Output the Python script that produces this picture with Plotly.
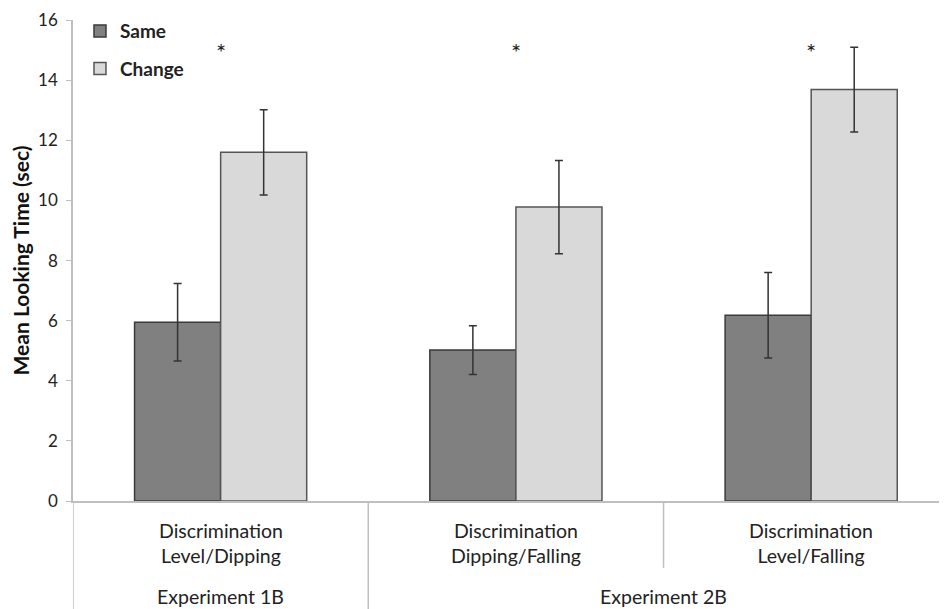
import plotly.graph_objects as go

categories = ["Discrimination<br>Level/Dipping", "Discrimination<br>Dipping/Falling", "Discrimination<br>Level/Falling"]
experiments = ["Experiment 1B", "Experiment 2B"]
same_vals = [5.95, 5.02, 6.18]
same_err = [1.29, 0.81, 1.42]
change_vals = [11.6, 9.78, 13.69]
change_err = [1.42, 1.55, 1.41]
y_ticks = [0, 2, 4, 6, 8, 10, 12, 14, 16]
star_y = 14.95

xpos = list(range(len(categories)))
font = "Lato, 'Open Sans', sans-serif"

fig = go.Figure()
fig.add_trace(go.Bar(
    x=xpos, y=same_vals, name="<b>Same</b>", legendgroup="a",
    marker=dict(color="#808080", line=dict(color="#3a3a3a", width=1.5)),
    error_y=dict(type="data", array=same_err, color="#333333", thickness=1.5, width=4),
))
fig.add_trace(go.Bar(
    x=xpos, y=change_vals, name="<b>Change</b>", legendgroup="b",
    marker=dict(color="#d9d9d9", line=dict(color="#555555", width=1.5)),
    error_y=dict(type="data", array=change_err, color="#333333", thickness=1.5, width=4),
))

annotations = []
for i, c in enumerate(categories):
    annotations.append(dict(x=i, y=star_y, xref="x", yref="y", text="*", showarrow=False,
                            font=dict(size=24, color="#222222", family=font)))
    annotations.append(dict(x=i, y=-0.088, xref="x", yref="paper", text=c, showarrow=False,
                            yanchor="middle", font=dict(size=19.5, color="#222222", family=font)))
annotations.append(dict(x=0, y=-0.199, xref="x", yref="paper", text=experiments[0], showarrow=False,
                        yanchor="middle", font=dict(size=19.5, color="#222222", family=font)))
annotations.append(dict(x=1.5, y=-0.199, xref="x", yref="paper", text=experiments[1], showarrow=False,
                        yanchor="middle", font=dict(size=19.5, color="#222222", family=font)))

line_c = "#bfbfbf"
shapes = [
    dict(type="line", xref="x", yref="paper", x0=-0.5, x1=-0.5, y0=0, y1=-0.232, line=dict(color=line_c, width=1.5)),
    dict(type="line", xref="x", yref="paper", x0=0.5, x1=0.5, y0=0, y1=-0.232, line=dict(color=line_c, width=1.5)),
    dict(type="line", xref="x", yref="paper", x0=1.5, x1=1.5, y0=0, y1=-0.139, line=dict(color=line_c, width=1.5)),
]

# page body has an 8px margin, so figure is sized/offset to compensate
fig.update_layout(
    width=939, height=601,
    margin=dict(l=65, r=0, t=12, b=108, autoexpand=False),
    paper_bgcolor="white", plot_bgcolor="white",
    barmode="group", bargap=0.417, bargroupgap=0,
    font=dict(family=font, color="#222222"),
    showlegend=True,
    legend=dict(x=0.008, y=1.0165, xanchor="left", yanchor="top", tracegroupgap=10,
                font=dict(size=19, color="#222222", family=font), bgcolor="rgba(0,0,0,0)"),
    xaxis=dict(range=[-0.5, 2.46], tickvals=[], showticklabels=False, showgrid=False, zeroline=False,
               showline=True, linecolor=line_c, linewidth=1.5, automargin=False),
    yaxis=dict(range=[0, 16.003], tickvals=y_ticks, showgrid=False, zeroline=False, automargin=False,
               showline=True, linecolor=line_c, linewidth=1.5, ticks="outside", ticklen=5,
               ticklabelstandoff=5, ticklabeloverflow="allow",
               tickcolor=line_c, tickfont=dict(size=17, color="#222222"),
               title=dict(text="<b>Mean Looking Time (sec)</b>", font=dict(size=21, color="#111111"), standoff=10)),
    annotations=annotations, shapes=shapes,
)

fig.write_html("out.html")
